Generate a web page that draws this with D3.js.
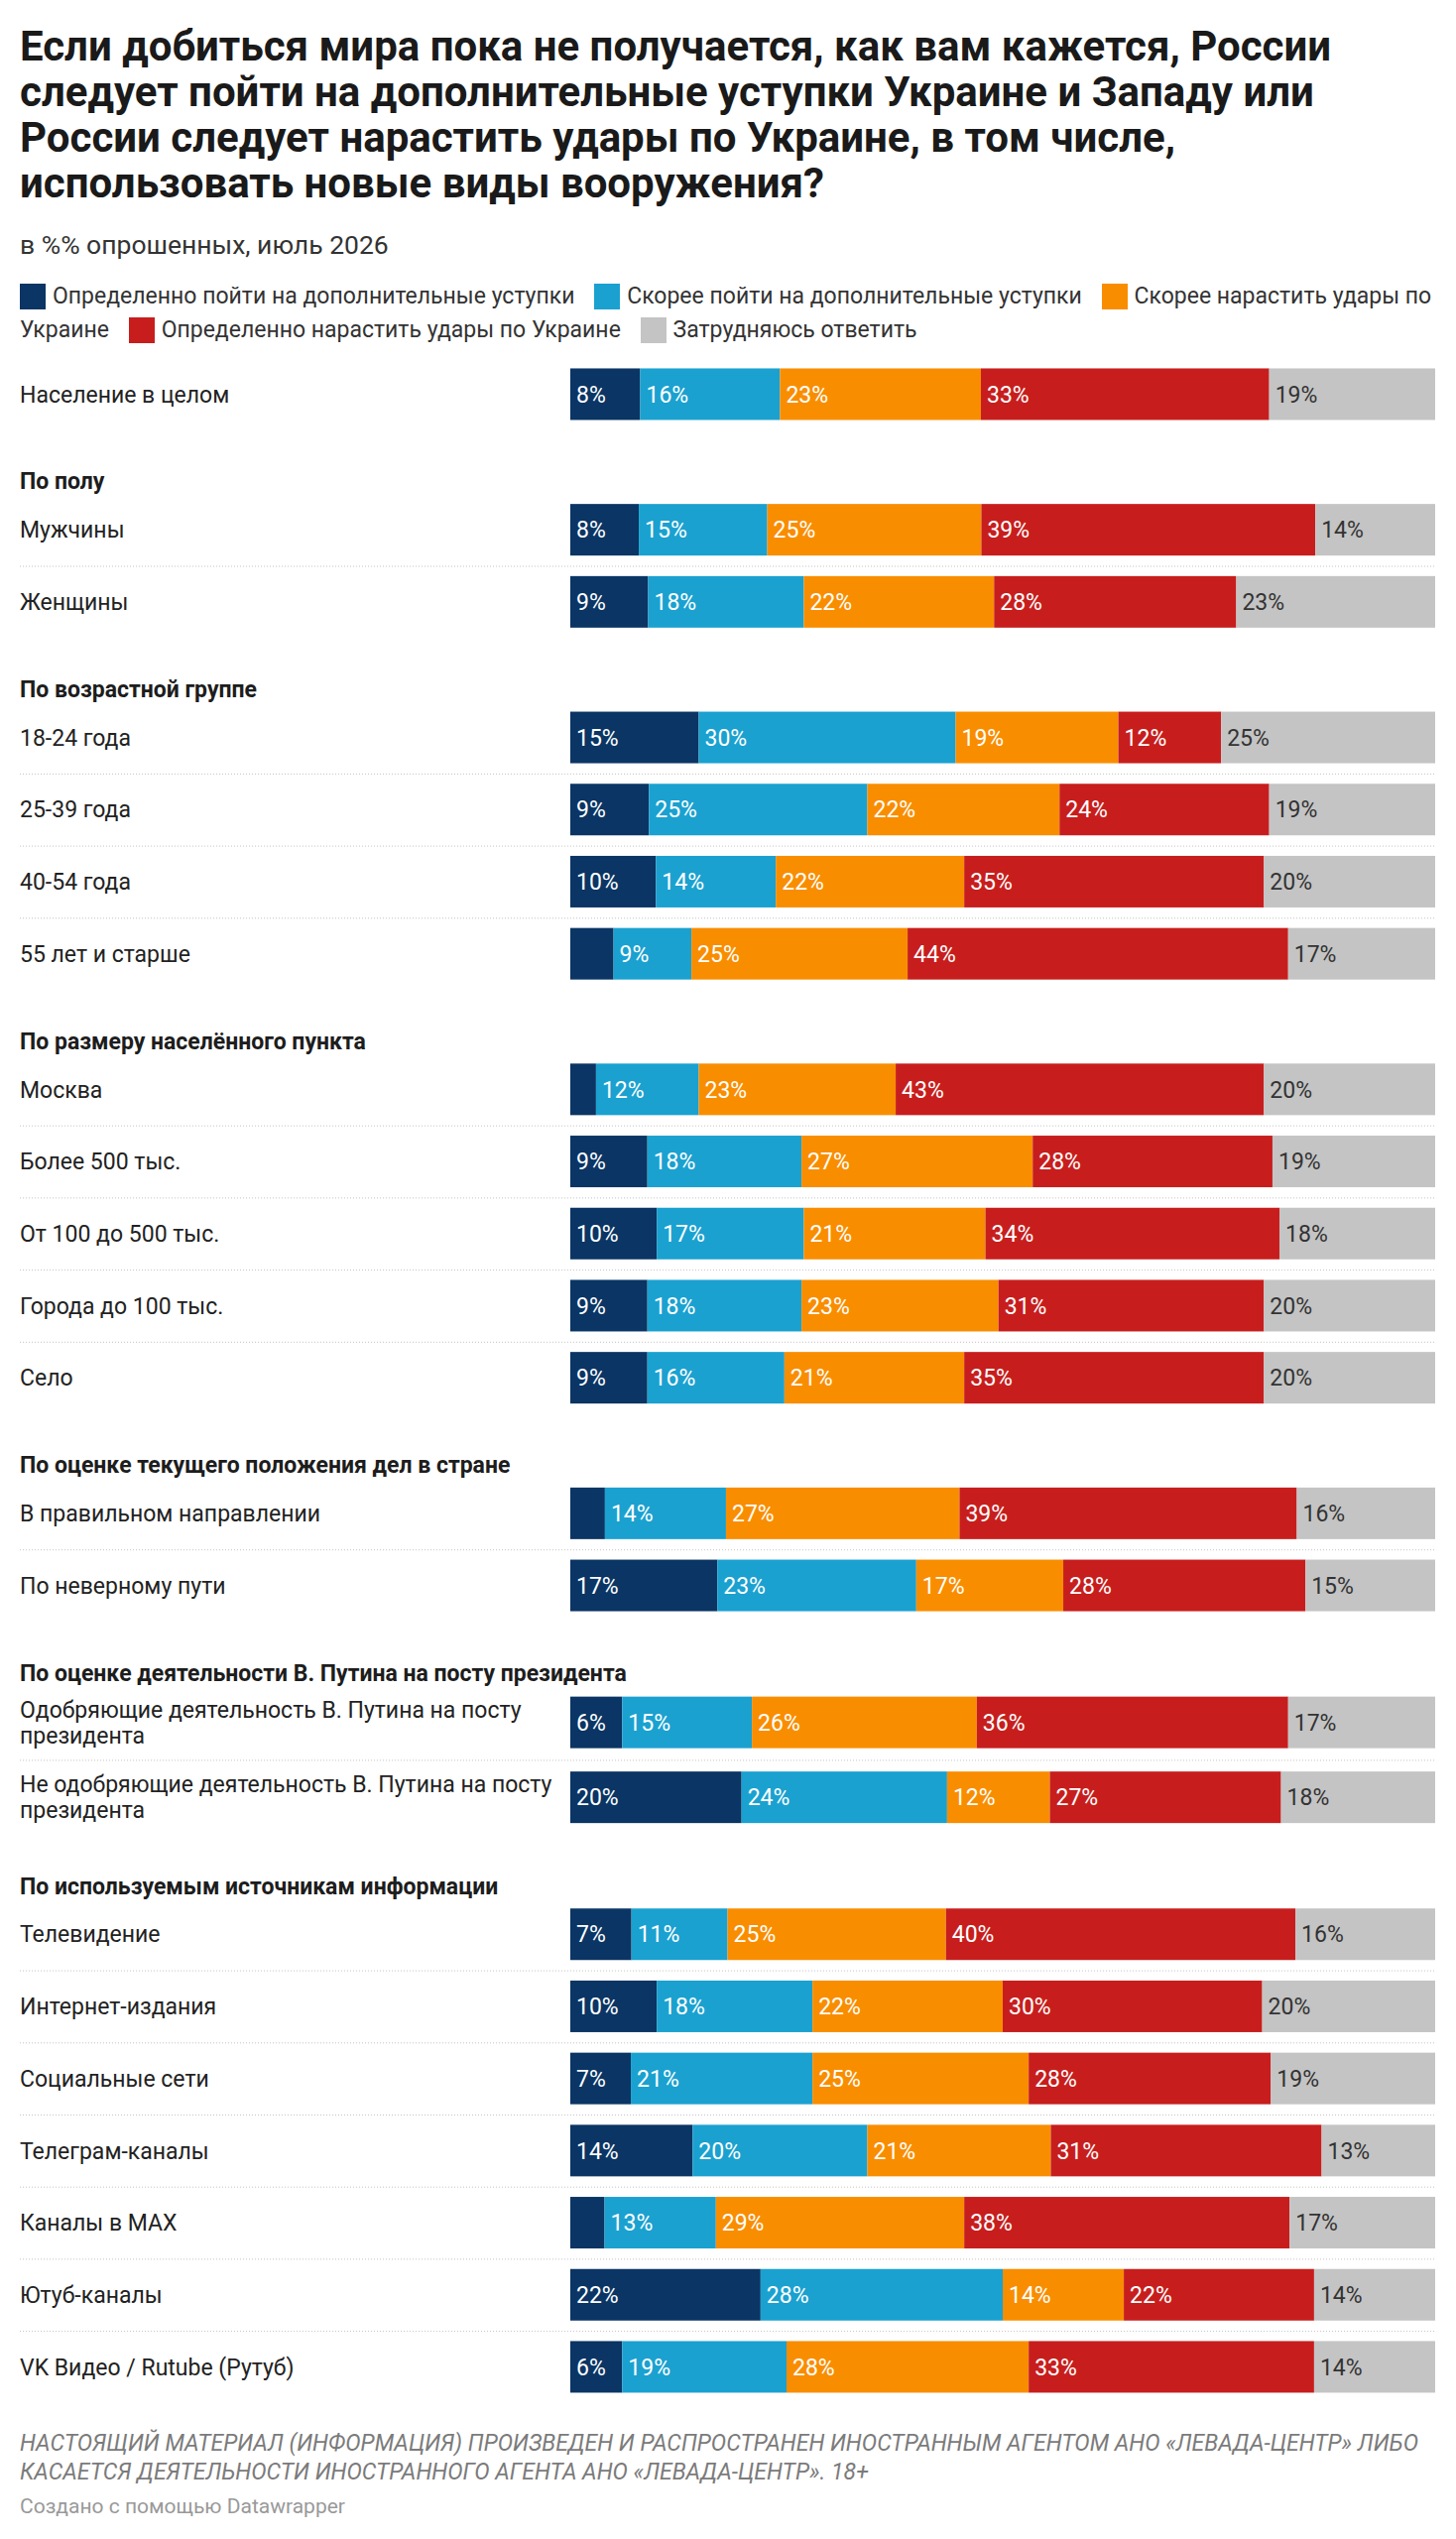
<!DOCTYPE html>
<html>
<head>
<meta charset="utf-8">
<script src="https://cdn.jsdelivr.net/npm/d3@7"></script>
<style>
  body { margin: 0; background: #fff; font-family: Roboto, "Noto Sans", "DejaVu Sans", sans-serif; }
  #wrap { position: relative; width: 1468px; height: 2560px; overflow: hidden; }
  #chart { position: absolute; left: 0; top: 0; }
  .title { position: absolute; left: 20px; top: 24px; font-size: 42px; line-height: 46px; font-weight: 700; color: #1a1a1a; }
  .title div { white-space: nowrap; }
  .subtitle { position: absolute; left: 20px; top: 232px; font-size: 26.5px; line-height: 30px; color: #333; white-space: nowrap; }
  .legend { position: absolute; left: 20px; top: 282px; width: 1428px; font-size: 23px; line-height: 34px; color: #333; }
  .legend .sw { display: inline-block; width: 26px; height: 26px; vertical-align: top; margin-top: 4px; margin-right: 7px; }
  .legend .last { margin-right: 14px; }
  .notes { position: absolute; left: 20px; top: 2449px; font-size: 23px; line-height: 29px; font-style: italic; color: #7b7b7b; }
  .notes div { white-space: nowrap; }
  .byline { position: absolute; left: 20px; top: 2514px; font-size: 21px; line-height: 26px; color: #999; white-space: nowrap; }
</style>
</head>
<body>
<div id="wrap"></div>
<script>
// ---------- data ----------
const titleLines = [
  "Если добиться мира пока не получается, как вам кажется, России",
  "следует пойти на дополнительные уступки Украине и Западу или",
  "России следует нарастить удары по Украине, в том числе,",
  "использовать новые виды вооружения?"
];
const subtitle = "в %% опрошенных, июль 2026";
const seriesNames = [
  "Определенно пойти на дополнительные уступки",
  "Скорее пойти на дополнительные уступки",
  "Скорее нарастить удары по Украине",
  "Определенно нарастить удары по Украине",
  "Затрудняюсь ответить"
];
const seriesColors = ["#0a3564", "#1aa1d0", "#f98d00", "#c71e1d", "#c4c4c4"];
const labelColors = ["#ffffff", "#ffffff", "#ffffff", "#ffffff", "#333333"];

const rowLabels = [
  "Население в целом",
  "Мужчины", "Женщины",
  "18-24 года", "25-39 года", "40-54 года", "55 лет и старше",
  "Москва", "Более 500 тыс.", "От 100 до 500 тыс.", "Города до 100 тыс.", "Село",
  "В правильном направлении", "По неверному пути",
  "Одобряющие деятельность В. Путина на посту президента",
  "Не одобряющие деятельность В. Путина на посту президента",
  "Телевидение", "Интернет-издания", "Социальные сети", "Телеграм-каналы",
  "Каналы в MAX", "Ютуб-каналы", "VK Видео / Rutube (Рутуб)"
];
const G1 = "По полу", G2 = "По возрастной группе", G3 = "По размеру населённого пункта",
      G4 = "По оценке текущего положения дел в стране",
      G5 = "По оценке деятельности В. Путина на посту президента",
      G6 = "По используемым источникам информации";
const rowGroups = [
  "",
  G1, G1,
  G2, G2, G2, G2,
  G3, G3, G3, G3, G3,
  G4, G4,
  G5, G5,
  G6, G6, G6, G6, G6, G6, G6
];
const defConcede    = [ 8,  8,  9, 15,  9, 10,  5,  3,  9, 10,  9,  9,  4, 17,  6, 20,  7, 10,  7, 14,  4, 22,  6];
const ratherConcede = [16, 15, 18, 30, 25, 14,  9, 12, 18, 17, 18, 16, 14, 23, 15, 24, 11, 18, 21, 20, 13, 28, 19];
const ratherStrike  = [23, 25, 22, 19, 22, 22, 25, 23, 27, 21, 23, 21, 27, 17, 26, 12, 25, 22, 25, 21, 29, 14, 28];
const defStrike     = [33, 39, 28, 12, 24, 35, 44, 43, 28, 34, 31, 35, 39, 28, 36, 27, 40, 30, 28, 31, 38, 22, 33];
const hardToSay     = [19, 14, 23, 25, 19, 20, 17, 20, 19, 18, 20, 20, 16, 15, 17, 18, 16, 20, 19, 13, 17, 14, 14];

const notesLines = [
  "НАСТОЯЩИЙ МАТЕРИАЛ (ИНФОРМАЦИЯ) ПРОИЗВЕДЕН И РАСПРОСТРАНЕН ИНОСТРАННЫМ АГЕНТОМ АНО «ЛЕВАДА-ЦЕНТР» ЛИБО",
  "КАСАЕТСЯ ДЕЯТЕЛЬНОСТИ ИНОСТРАННОГО АГЕНТА АНО «ЛЕВАДА-ЦЕНТР». 18+"
];
const byline = "Создано с помощью Datawrapper";

// ---------- header ----------
const wrap = d3.select("#wrap");
const svg = wrap.append("svg").attr("id", "chart").attr("width", 1468).attr("height", 2560);

wrap.append("div").attr("class", "title")
  .selectAll("div").data(titleLines).join("div").text(d => d);
wrap.append("div").attr("class", "subtitle").text(subtitle);

// legend: swatch + one span per word so the text can wrap like inline flow
const legend = wrap.append("div").attr("class", "legend");
const legendNode = legend.node();
seriesNames.forEach((name, i) => {
  legend.append("span").attr("class", "sw").style("background", seriesColors[i]);
  const words = name.split(" ");
  words.forEach((w, j) => {
    const s = legend.append("span").text(w);
    if (j === words.length - 1) s.attr("class", "last");
    legendNode.appendChild(document.createTextNode(" "));
  });
});

wrap.append("div").attr("class", "notes")
  .selectAll("div").data(notesLines).join("div").text(d => d);
wrap.append("div").attr("class", "byline").text(byline);

// ---------- chart ----------
const FONT = "Roboto, 'Noto Sans', sans-serif";
const FS = 23;
const keys = ["a", "b", "c", "d", "e"];
const data = rowLabels.map((label, i) => ({
  label, group: rowGroups[i],
  a: defConcede[i], b: ratherConcede[i], c: ratherStrike[i], d: defStrike[i], e: hardToSay[i]
}));
const stacked = d3.stack().keys(keys).offset(d3.stackOffsetExpand)(data);

const x = d3.scaleLinear().domain([0, 1]).range([575, 1447]);
const barH = 52, rowGap = 20.7, lineH = 27.4, labelX = 20, labelMaxW = 548;

const measure = svg.append("text").attr("font-size", FS).style("font-family", FONT).attr("x", -9999).attr("y", -9999);
function wrapText(str, maxW) {
  const words = str.split(" ");
  const lines = [];
  let cur = "";
  words.forEach(w => {
    const t = cur ? cur + " " + w : w;
    measure.text(t);
    if (measure.node().getComputedTextLength() > maxW && cur) { lines.push(cur); cur = w; }
    else cur = t;
  });
  lines.push(cur);
  return lines;
}

// vertical layout
let yPos = 361.1;
let prevGroup = null;
const headers = [], separators = [], centers = [];
data.forEach((r, i) => {
  r.lines = wrapText(r.label, labelMaxW);
  if (i > 0 && r.group !== prevGroup) {
    if (r.group) { headers.push({ text: r.group, y: yPos + 51.4 }); yPos += 64; }
  } else if (i > 0) {
    separators.push(yPos);
  }
  const h = Math.max(barH, r.lines.length * lineH) + rowGap;
  centers.push(yPos + h / 2);
  yPos += h;
  prevGroup = r.group;
});
measure.remove();
const y = d3.scaleOrdinal().domain(rowLabels).range(centers);

// separators
svg.append("g").selectAll("line").data(separators).join("line")
  .attr("x1", labelX).attr("x2", x(1))
  .attr("y1", d => d + 0.5).attr("y2", d => d + 0.5)
  .attr("stroke", "#c4c4c4").attr("stroke-width", 1).attr("stroke-dasharray", "1 2");

// group headers
svg.append("g").selectAll("text").data(headers).join("text")
  .attr("x", labelX).attr("y", d => d.y + 8.2)
  .attr("font-size", FS).attr("font-weight", 700).attr("fill", "#1d1d1d")
  .style("font-family", FONT).text(d => d.text);

// row labels
const rl = svg.append("g").selectAll("text").data(data).join("text")
  .attr("font-size", FS).attr("fill", "#222").style("font-family", FONT);
rl.each(function(d) {
  const n = d.lines.length;
  const c = y(d.label);
  d3.select(this).selectAll("tspan").data(d.lines).join("tspan")
    .attr("x", labelX)
    .attr("y", (t, j) => c + 8.2 + (j - (n - 1) / 2) * 26)
    .text(t => t);
});

// bars
const layers = svg.append("g").selectAll("g").data(stacked).join("g")
  .attr("fill", (s, i) => seriesColors[i]);
layers.selectAll("rect").data(s => s).join("rect")
  .attr("x", d => x(d[0]))
  .attr("width", d => x(d[1]) - x(d[0]))
  .attr("y", d => y(d.data.label) - barH / 2)
  .attr("height", barH);

// value labels
const vl = svg.append("g");
stacked.forEach((s, si) => {
  s.forEach(d => {
    const v = d.data[s.key];
    const w = x(d[1]) - x(d[0]);
    const t = vl.append("text")
      .attr("x", x(d[0]) + 6)
      .attr("y", y(d.data.label) + 8.2)
      .attr("font-size", FS).attr("fill", labelColors[si])
      .style("font-family", FONT)
      .text(v + "%");
    if (t.node().getComputedTextLength() + 16 > w) t.remove();
  });
});
</script>
</body>
</html>
